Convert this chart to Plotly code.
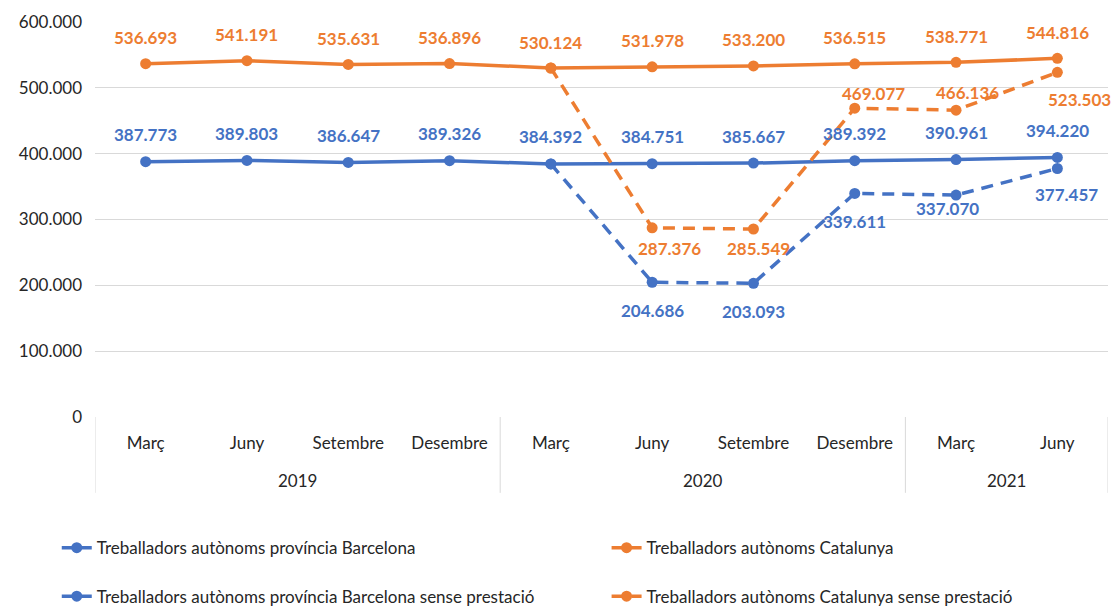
import plotly.graph_objects as go

# data
years = ["2019", "2019", "2019", "2019", "2020", "2020", "2020", "2020", "2021", "2021"]
months = ["Març", "Juny", "Setembre", "Desembre", "Març", "Juny", "Setembre", "Desembre", "Març", "Juny"]

bcn = [387773, 389803, 386647, 389326, 384392, 384751, 385667, 389392, 390961, 394220]
cat = [536693, 541191, 535631, 536896, 530124, 531978, 533200, 536515, 538771, 544816]
bcn_sense = [None, None, None, None, 384392, 204686, 203093, 339611, 337070, 377457]
cat_sense = [None, None, None, None, 530124, 287376, 285549, 469077, 466136, 523503]

y_ticks = [0, 100000, 200000, 300000, 400000, 500000, 600000]

BLUE = "#4472C4"
ORANGE = "#ED7D31"
FONT = "Lato"
TXT = "#262626"

x = list(range(len(months)))


def fmt(v):
    return f"{v:,}".replace(",", ".")


fig = go.Figure()

# one legend per entry so the 2x2 grid can be placed like the original
series = [
    ("Treballadors autònoms província Barcelona", bcn, BLUE, "solid", "legend", 0.051, 0.097),
    ("Treballadors autònoms Catalunya", cat, ORANGE, "solid", "legend2", 0.545, 0.097),
    ("Treballadors autònoms província Barcelona sense prestació", bcn_sense, BLUE, "12px,8px", "legend3", 0.051, 0.017),
    ("Treballadors autònoms Catalunya sense prestació", cat_sense, ORANGE, "12px,8px", "legend4", 0.545, 0.017),
]
legends = {}
for name, vals, color, dash, leg, lx, ly in series:
    fig.add_trace(
        go.Scatter(
            x=x,
            y=vals,
            name=name,
            mode="lines+markers",
            line=dict(color=color, width=3.5, dash=dash),
            marker=dict(color=color, size=11),
            legend=leg,
            connectgaps=False,
            hoverinfo="skip",
        )
    )
    legends[leg] = dict(
        orientation="h", xref="container", yref="container", x=lx, y=ly,
        xanchor="left", yanchor="middle", font=dict(family=FONT, size=17, color=TXT),
        bgcolor="rgba(0,0,0,0)",
    )

# label offsets (px): solid series above, dashed ones placed by hand like the original
label_style = [
    (bcn, BLUE, [(0, 27)] * 10, set()),
    (cat, ORANGE, [(0, 26)] * 10, set()),
    (bcn_sense, BLUE, [(0, 0)] * 5 + [(0, -28), (0, -28), (0, -28), (-9, -13), (9, -26)], {4}),
    (cat_sense, ORANGE, [(0, 0)] * 5 + [(17, -21), (5, -19), (19, 15), (11, 18), (22, -27)], {4}),
]
for vals, color, offsets, skip in label_style:
    for i, v in enumerate(vals):
        if v is None or i in skip:
            continue
        dx, dy = offsets[i]
        fig.add_annotation(
            x=x[i], y=v, text=fmt(v), showarrow=False,
            xshift=dx, yshift=dy,
            font=dict(family=FONT, size=17, color=color, weight="bold"),
        )

# year group labels and dividers under the category axis
groups = []
for i, yr in enumerate(years):
    if not groups or groups[-1][0] != yr:
        groups.append([yr, i, i])
    else:
        groups[-1][2] = i
for yr, a, b in groups:
    fig.add_annotation(
        x=(a + b) / 2, y=-0.16, xref="x", yref="paper", text=yr, showarrow=False,
        font=dict(family=FONT, size=17, color=TXT), yanchor="middle",
    )
edges = [g[1] - 0.5 for g in groups] + [groups[-1][2] + 0.5]
for e in edges:
    fig.add_shape(
        type="line", xref="x", yref="paper", x0=e, x1=e, y0=0, y1=-0.192,
        line=dict(color="#d9d9d9", width=1),
    )

fig.update_layout(
    width=1113,
    height=607,
    template="plotly_white",
    plot_bgcolor="white",
    paper_bgcolor="white",
    separators=",.",
    margin=dict(l=95, r=5, t=22, b=190, autoexpand=False),
    font=dict(family=FONT, size=17, color=TXT),
    showlegend=True,
    **legends,
)
fig.update_xaxes(
    range=[-0.5, len(months) - 0.5],
    tickvals=x,
    ticktext=months,
    showgrid=False,
    zeroline=False,
    showline=False,
    ticks="",
    ticklabelstandoff=14,
    tickfont=dict(family=FONT, size=17, color=TXT),
)
fig.update_yaxes(
    range=[0, 600000],
    tickvals=y_ticks,
    tickformat=",d",
    showgrid=True,
    gridcolor="#d9d9d9",
    gridwidth=1,
    zeroline=False,
    showline=False,
    ticks="",
    ticklabelstandoff=12,
    tickfont=dict(family=FONT, size=17, color=TXT),
)

fig.write_html(
    "out.html",
    config={"displayModeBar": False},
    post_script="document.body.style.margin='0';",
)
